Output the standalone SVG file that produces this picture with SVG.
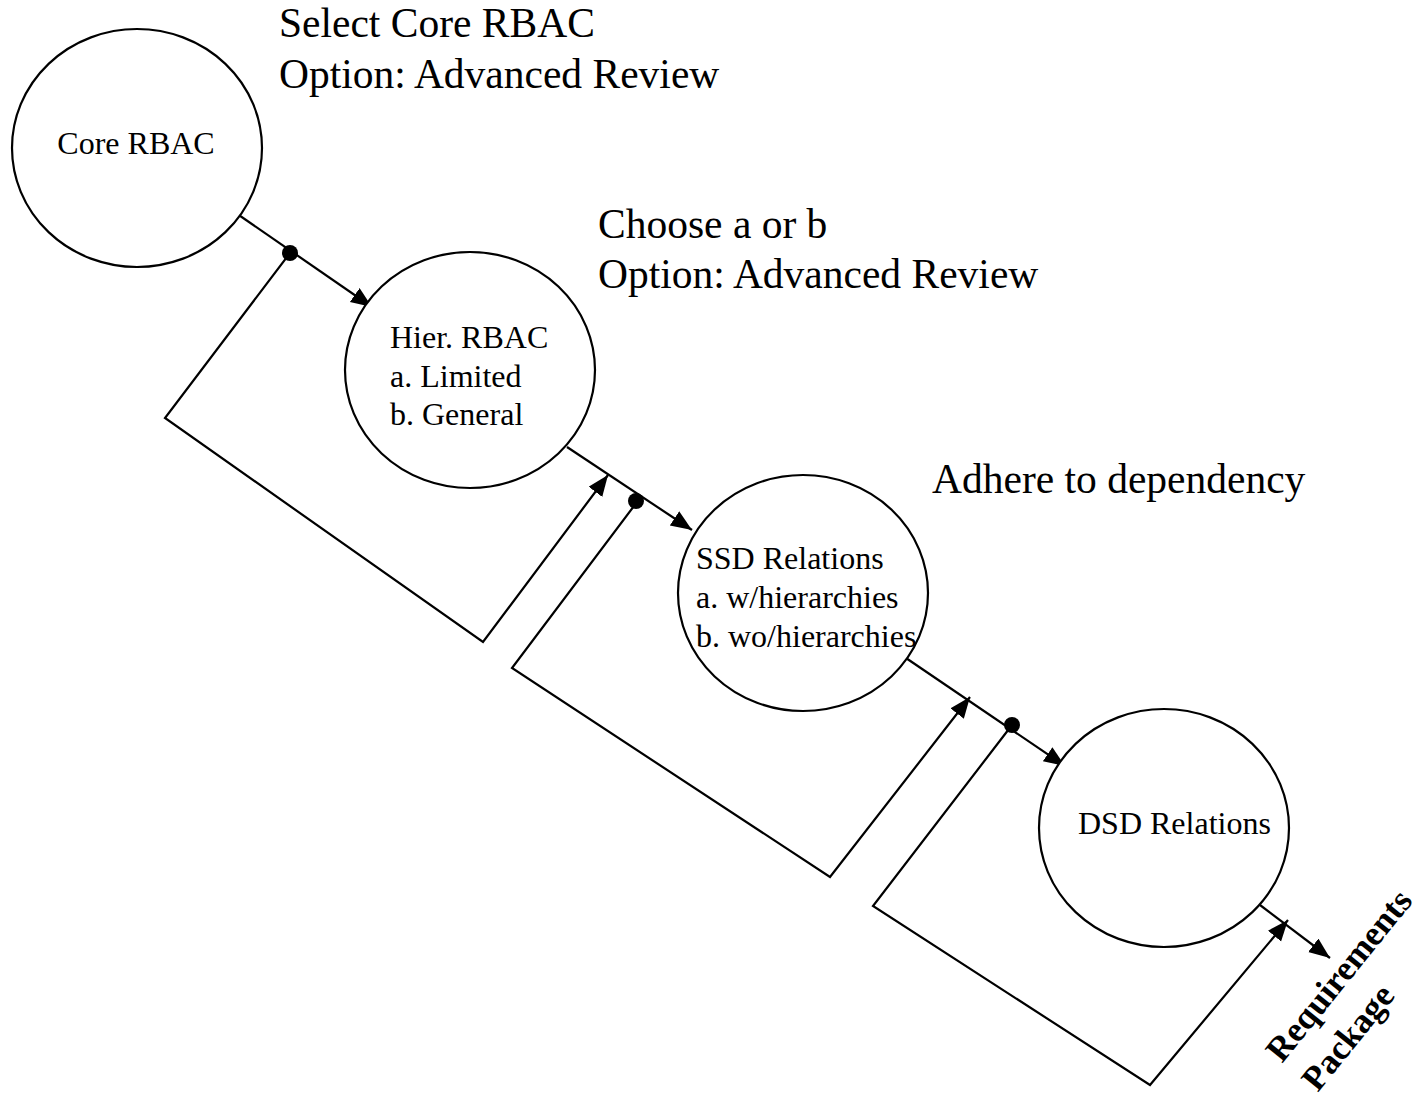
<svg xmlns="http://www.w3.org/2000/svg" width="1427" height="1102" viewBox="0 0 1427 1102">
<defs>
<style>
.node{fill:#fff;stroke:#000;stroke-width:2.2}
.lbl{font-family:"Liberation Serif","Times New Roman",serif;font-size:32px;fill:#000}
.note{font-family:"Liberation Serif","Times New Roman",serif;font-size:41.5px;fill:#000}
.out{font-family:"Liberation Serif","Times New Roman",serif;font-size:35px;font-weight:bold;fill:#000}
.ln{fill:none;stroke:#000;stroke-width:2.2}
.arr{marker-end:url(#ah)}
</style>
<marker id="ah" markerUnits="userSpaceOnUse" markerWidth="24" markerHeight="20" refX="21" refY="8.5" orient="auto">
<path d="M0,0 L21,8.5 L0,17 z" fill="#000"/>
</marker>
</defs>
<rect width="1427" height="1102" fill="#fff"/>

<g id="notes">
<text class="note" x="279" y="37">Select Core RBAC</text>
<text class="note" x="279" y="88">Option: Advanced Review</text>
<text class="note" x="598" y="238">Choose a or b</text>
<text class="note" x="598" y="288">Option: Advanced Review</text>
<text class="note" x="932" y="493">Adhere to dependency</text>
</g>

<g id="connectors">
<line class="ln arr" x1="233" y1="211" x2="372" y2="307"/>
<line class="ln arr" x1="567" y1="447" x2="692" y2="530"/>
<line class="ln arr" x1="903" y1="656" x2="1065" y2="766"/>
<line class="ln arr" x1="1260" y1="905" x2="1330" y2="958"/>
<polyline class="ln arr" points="290,253 165,418 483,642 608,475"/>
<polyline class="ln arr" points="637,502 512,668 830,877 970,697"/>
<polyline class="ln arr" points="1012,725 873,906 1150,1085 1288,920"/>
<circle cx="290" cy="253" r="8" fill="#000"/>
<circle cx="636" cy="501" r="8" fill="#000"/>
<circle cx="1012" cy="725" r="8" fill="#000"/>
</g>

<g id="core-rbac">
<ellipse class="node" cx="137" cy="148" rx="125" ry="119"/>
<text class="lbl" x="136" y="154" text-anchor="middle">Core RBAC</text>
</g>

<g id="hier-rbac">
<ellipse class="node" cx="470" cy="370" rx="125" ry="118"/>
<text class="lbl" x="390" y="348">Hier. RBAC</text>
<text class="lbl" x="390" y="387">a. Limited</text>
<text class="lbl" x="390" y="425">b. General</text>
</g>

<g id="ssd-relations">
<ellipse class="node" cx="803" cy="593" rx="125" ry="118"/>
<text class="lbl" x="696" y="569">SSD Relations</text>
<text class="lbl" x="696" y="608">a. w/hierarchies</text>
<text class="lbl" x="696" y="647">b. wo/hierarchies</text>
</g>

<g id="dsd-relations">
<ellipse class="node" cx="1164" cy="828" rx="125" ry="119"/>
<text class="lbl" x="1078" y="834">DSD Relations</text>
</g>

<g id="requirements-package">
<g transform="translate(1282,1064) rotate(-51)">
<text class="out" x="0" y="0">Requirements</text>
<text class="out" x="0" y="46">Package</text>
</g>
</g>
</svg>
